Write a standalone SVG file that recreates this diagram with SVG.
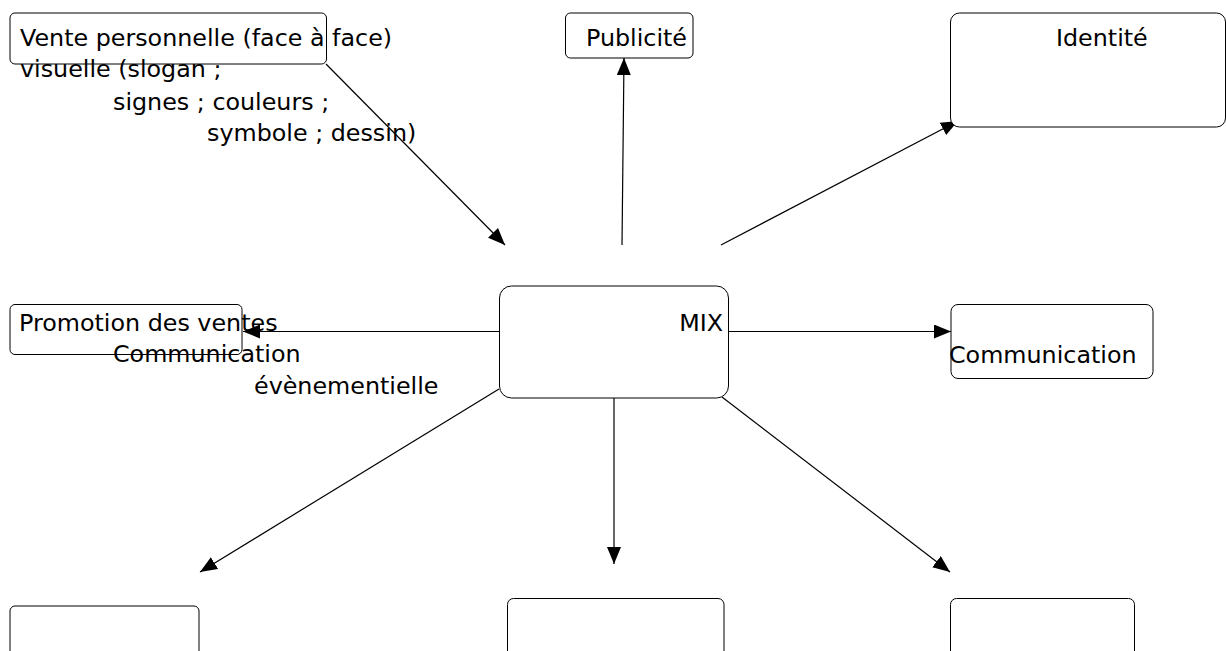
<svg xmlns="http://www.w3.org/2000/svg" width="1226" height="651" viewBox="0 0 1226 651">
<style>
.box{fill:#fff;stroke:#000;stroke-width:1}
.t{font-family:"DejaVu Sans",sans-serif;font-size:23.8px;fill:#000}
.c{stroke:#000;stroke-width:1.2;fill:none;marker-end:url(#ah)}
</style>
<defs>
<marker id="ah" markerUnits="userSpaceOnUse" markerWidth="18" markerHeight="16" refX="17" refY="7" orient="auto">
<path d="M0,0 L17,7 L0,14 Z" fill="#000"/>
</marker>
</defs>
<rect width="1226" height="651" fill="#fff"/>
<g id="connectors">
<line class="c" x1="326" y1="64" x2="505" y2="245"/>
<line class="c" x1="622" y1="245" x2="624" y2="58"/>
<line class="c" x1="721" y1="245" x2="958" y2="121"/>
<line class="c" x1="499" y1="331.5" x2="243" y2="331.5"/>
<line class="c" x1="729" y1="331.5" x2="951" y2="331.5"/>
<line class="c" x1="499" y1="389" x2="200" y2="572"/>
<line class="c" x1="614" y1="397" x2="614" y2="564"/>
<line class="c" x1="722" y1="397" x2="950" y2="572"/>
</g>
<g id="n-vente">
<rect class="box" x="10" y="13" width="316.5" height="51" rx="5"/>
<text class="t" x="20" y="46">Vente personnelle (face à face)</text>
<text class="t" x="20" y="77">visuelle (slogan ;</text>
<text class="t" x="113" y="110">signes ; couleurs ;</text>
<text class="t" x="207" y="141">symbole ; dessin)</text>
</g>
<g id="n-publicite">
<rect class="box" x="565.5" y="13" width="127.5" height="45" rx="5"/>
<text class="t" x="586" y="46">Publicité</text>
</g>
<g id="n-identite">
<rect class="box" x="950.5" y="13" width="275" height="114" rx="9"/>
<text class="t" x="1056" y="46">Identité</text>
</g>
<g id="n-mix">
<rect class="box" x="499.5" y="286" width="229" height="112" rx="12"/>
<text class="t" x="723" y="331" text-anchor="end">MIX</text>
</g>
<g id="n-promotion">
<rect class="box" x="10" y="304.5" width="232" height="50" rx="5"/>
<text class="t" x="19" y="331">Promotion des ventes</text>
<text class="t" x="113" y="362">Communication</text>
<text class="t" x="254" y="394">évènementielle</text>
</g>
<g id="n-communication">
<rect class="box" x="951" y="304.5" width="202" height="74" rx="7"/>
<text class="t" x="949" y="363">Communication</text>
</g>
<g id="n-bottom1">
<rect class="box" x="10" y="606" width="189" height="60" rx="5"/>
</g>
<g id="n-bottom2">
<rect class="box" x="507.5" y="598.5" width="216.5" height="70" rx="6"/>
</g>
<g id="n-bottom3">
<rect class="box" x="950.5" y="598.5" width="184" height="70" rx="6"/>
</g>
</svg>
